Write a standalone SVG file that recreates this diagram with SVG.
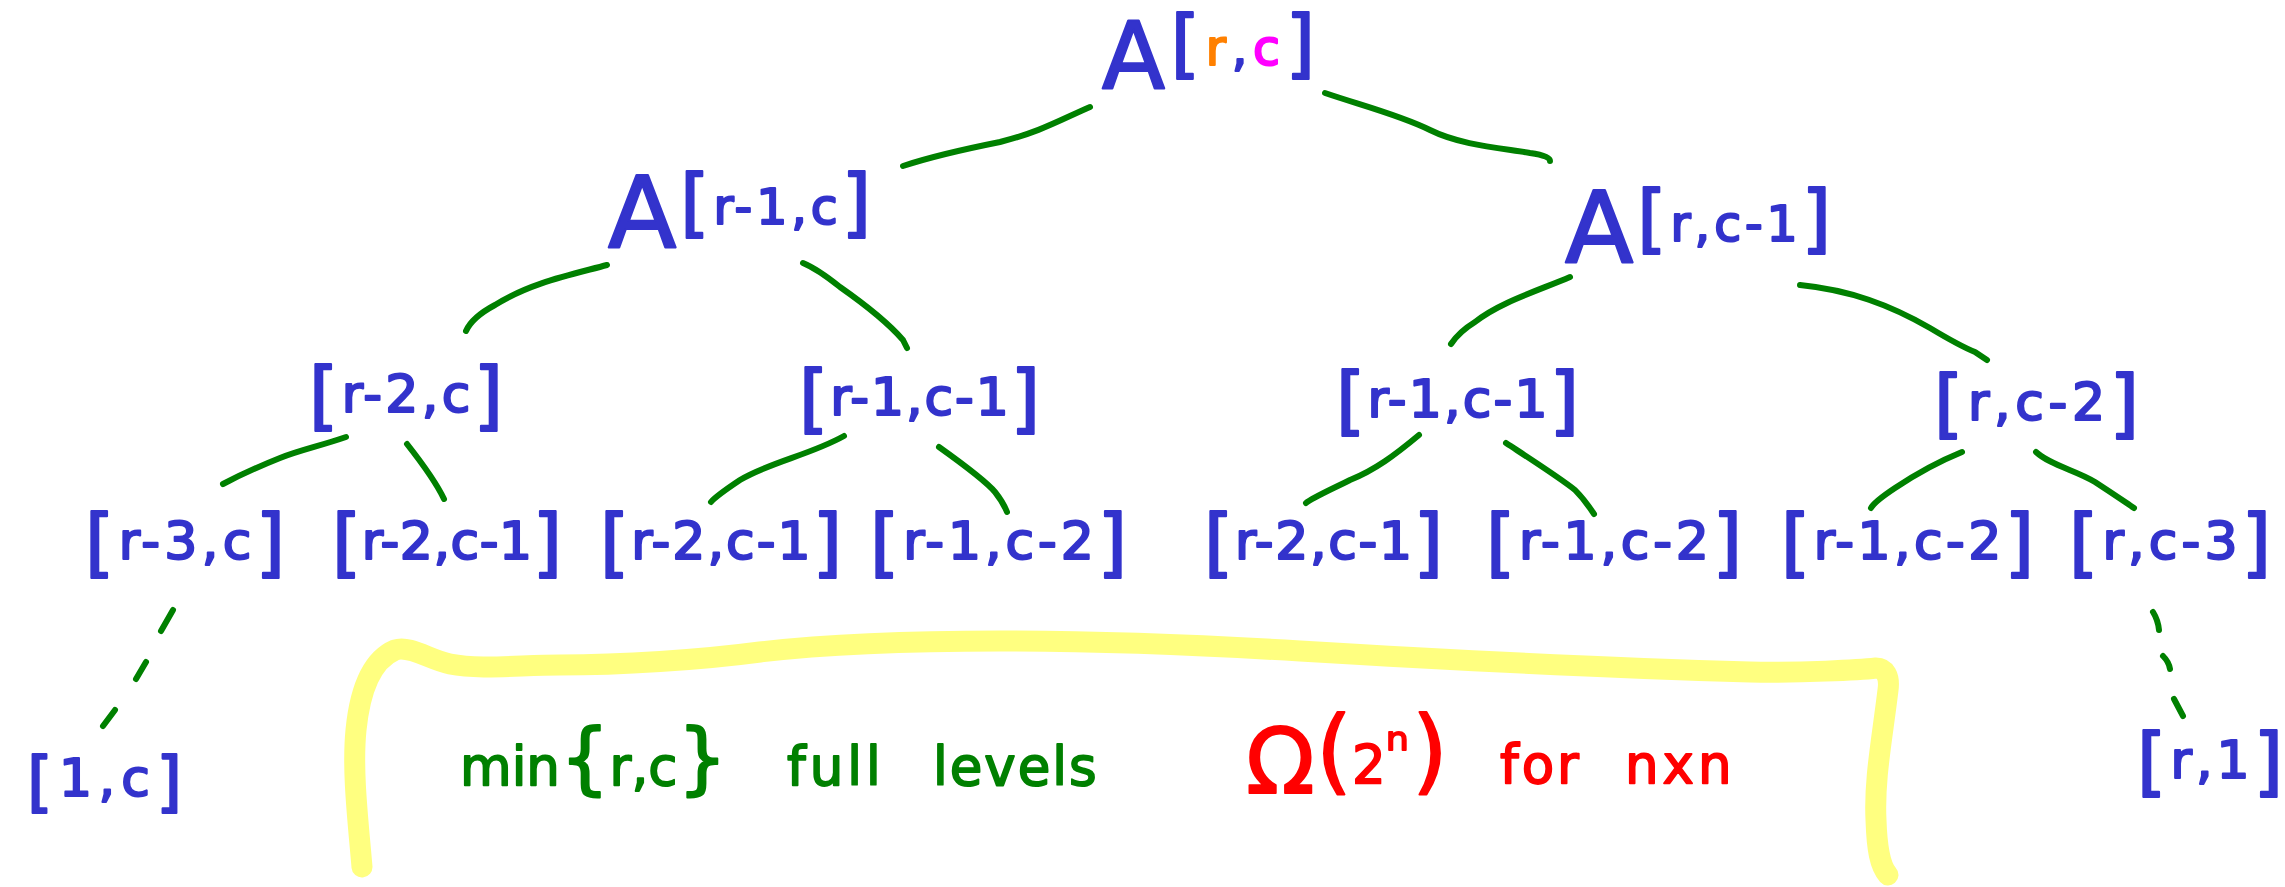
<svg xmlns="http://www.w3.org/2000/svg" width="2285" height="887" viewBox="0 0 2285 887">
<style>
text { font-family: "DejaVu Sans", "Liberation Sans", sans-serif; stroke-linejoin: round; }
.lbl { fill: #3333cc; stroke: #3333cc; stroke-width: 2.2; }
.br { font-size: 75px; }
.brs { font-size: 66px; }
.in { font-size: 52px; }
.in1 { font-size: 49px; }
.A { font-size: 100px; }
.A0 { font-size: 92px; }
.or { fill: #ff8000; stroke: #ff8000; }
.mg { fill: #ff00ff; stroke: #ff00ff; }
.gtx { fill: #008000; stroke: #008000; stroke-width: 1.8; font-size: 53px; }
.rtx { fill: #ff0000; stroke: #ff0000; stroke-width: 1.8; font-size: 53px; }
.brc { font-size: 78px; }
.par { font-size: 92px; }
.om { font-size: 90px; }
.edge { fill: none; stroke: #008000; stroke-width: 6; stroke-linecap: round; stroke-linejoin: round; }
.hl { fill: none; stroke: #ffff80; stroke-width: 21; stroke-linecap: round; stroke-linejoin: round; }
</style>

<g id="highlight">
<path class="hl" d="M362,867 C358,820 352,770 356,730 C360,690 372,660 395,650 C410,645 430,660 450,664 C480,670 520,665 560,665 C620,665 700,660 760,652 C820,645 900,641 1000,641 C1100,641 1200,645 1300,651 C1450,660 1600,668 1750,672 C1800,673 1860,670 1876,668 C1885,668 1890,676 1888,690 C1882,740 1874,780 1876,820 C1877,850 1880,866 1888,875"/>
</g>

<g id="connectors">
<path class="edge" d="M1090,107 C1060,120 1040,132 1000,142 C960,150 930,157 903,166"/>
<path class="edge" d="M1325,93 C1360,105 1400,115 1430,130 C1460,145 1500,148 1530,153 C1545,155 1550,158 1550,161"/>
<path class="edge" d="M607,265 C570,275 530,283 495,305 C480,313 470,322 466,331"/>
<path class="edge" d="M803,263 C815,268 825,275 840,287 C870,308 890,325 903,340 L907,348"/>
<path class="edge" d="M1570,277 C1540,290 1500,302 1475,322 C1462,330 1455,338 1451,344"/>
<path class="edge" d="M1800,285 C1850,290 1890,305 1930,328 C1955,343 1970,350 1975,352 L1987,360"/>
<path class="edge" d="M346,437 C320,446 300,450 280,458 C260,466 240,475 223,484"/>
<path class="edge" d="M407,444 C418,458 435,480 444,499"/>
<path class="edge" d="M844,436 C810,455 770,462 740,480 C725,490 715,497 711,502"/>
<path class="edge" d="M939,447 C960,462 985,480 995,492 C1003,502 1005,507 1007,512"/>
<path class="edge" d="M1419,435 C1395,455 1375,470 1350,480 C1330,490 1312,498 1306,503"/>
<path class="edge" d="M1506,443 C1535,462 1560,478 1575,490 C1585,500 1590,508 1594,514"/>
<path class="edge" d="M1962,452 C1930,465 1910,478 1895,488 C1880,498 1873,504 1871,508"/>
<path class="edge" d="M2036,452 C2050,465 2075,470 2095,482 C2115,495 2125,502 2134,508"/>
<path class="edge" d="M173,610 L161,631 M146,662 L136,679 M115,710 L103,726"/>
<path class="edge" d="M2153,612 Q2158,620 2159,630 M2163,656 Q2169,662 2170,669 M2174,699 L2183,716"/>
</g>

<g id="root">
<text class="lbl" x="1102" y="88" textLength="213" lengthAdjust="spacing"><tspan class="A0">A</tspan><tspan class="br" dy="-19">[</tspan><tspan class="in1" dy="-4"><tspan class="or">r</tspan>,<tspan class="mg">c</tspan></tspan><tspan class="br" dy="4">]</tspan></text>
</g>

<g id="n_r1c">
<text class="lbl" x="608" y="248" textLength="263" lengthAdjust="spacing"><tspan class="A">A</tspan><tspan class="br" dy="-20">[</tspan><tspan class="in1" dy="-4">r-1,c</tspan><tspan class="br" dy="4">]</tspan></text>
</g>

<g id="n_rc1">
<text class="lbl" x="1565" y="263" textLength="266" lengthAdjust="spacing"><tspan class="A">A</tspan><tspan class="br" dy="-19">[</tspan><tspan class="in1" dy="-3">r,c-1</tspan><tspan class="br" dy="3">]</tspan></text>
</g>

<g id="n_r2c">
<text class="lbl" x="309" y="421" textLength="194" lengthAdjust="spacing"><tspan class="br">[</tspan><tspan class="in" dy="-9">r-2,c</tspan><tspan class="br" dy="9">]</tspan></text>
</g>
<g id="n_r1c1_a">
<text class="lbl" x="799" y="424" textLength="241" lengthAdjust="spacing"><tspan class="br">[</tspan><tspan class="in" dy="-9">r-1,c-1</tspan><tspan class="br" dy="9">]</tspan></text>
</g>
<g id="n_r1c1_b">
<text class="lbl" x="1336" y="426" textLength="243" lengthAdjust="spacing"><tspan class="br">[</tspan><tspan class="in" dy="-9">r-1,c-1</tspan><tspan class="br" dy="9">]</tspan></text>
</g>
<g id="n_rc2">
<text class="lbl" x="1934" y="429" textLength="205" lengthAdjust="spacing"><tspan class="br">[</tspan><tspan class="in" dy="-9">r,c-2</tspan><tspan class="br" dy="9">]</tspan></text>
</g>

<g id="n_r3c">
<text class="lbl" x="85" y="568" textLength="200" lengthAdjust="spacing"><tspan class="br">[</tspan><tspan class="in" dy="-9">r-3,c</tspan><tspan class="br" dy="9">]</tspan></text>
</g>
<g id="n_r2c1_a">
<text class="lbl" x="332" y="568" textLength="230" lengthAdjust="spacing"><tspan class="br">[</tspan><tspan class="in" dy="-9">r-2,c-1</tspan><tspan class="br" dy="9">]</tspan></text>
</g>
<g id="n_r2c1_b">
<text class="lbl" x="600" y="568" textLength="242" lengthAdjust="spacing"><tspan class="br">[</tspan><tspan class="in" dy="-9">r-2,c-1</tspan><tspan class="br" dy="9">]</tspan></text>
</g>
<g id="n_r1c2_a">
<text class="lbl" x="870" y="568" textLength="257" lengthAdjust="spacing"><tspan class="br">[</tspan><tspan class="in" dy="-9">r-1,c-2</tspan><tspan class="br" dy="9">]</tspan></text>
</g>
<g id="n_r2c1_c">
<text class="lbl" x="1204" y="568" textLength="239" lengthAdjust="spacing"><tspan class="br">[</tspan><tspan class="in" dy="-9">r-2,c-1</tspan><tspan class="br" dy="9">]</tspan></text>
</g>
<g id="n_r1c2_b">
<text class="lbl" x="1486" y="568" textLength="256" lengthAdjust="spacing"><tspan class="br">[</tspan><tspan class="in" dy="-9">r-1,c-2</tspan><tspan class="br" dy="9">]</tspan></text>
</g>
<g id="n_r1c2_c">
<text class="lbl" x="1781" y="568" textLength="253" lengthAdjust="spacing"><tspan class="br">[</tspan><tspan class="in" dy="-9">r-1,c-2</tspan><tspan class="br" dy="9">]</tspan></text>
</g>
<g id="n_rc3">
<text class="lbl" x="2069" y="568" textLength="202" lengthAdjust="spacing"><tspan class="br">[</tspan><tspan class="in" dy="-9">r,c-3</tspan><tspan class="br" dy="9">]</tspan></text>
</g>

<g id="n_1c">
<text class="lbl" x="27" y="804" textLength="155" lengthAdjust="spacing"><tspan class="brs">[</tspan><tspan class="in" dy="-8">1,c</tspan><tspan class="brs" dy="8">]</tspan></text>
</g>
<g id="n_r1">
<text class="lbl" x="2137" y="787" textLength="146" lengthAdjust="spacing"><tspan class="br">[</tspan><tspan class="in" dy="-9">r,1</tspan><tspan class="br" dy="9">]</tspan></text>
</g>

<g id="note_levels">
<text class="gtx" y="785"><tspan x="460">min<tspan class="brc">{</tspan>r,c<tspan class="brc">}</tspan></tspan> <tspan x="787" letter-spacing="4">full</tspan> <tspan x="933" letter-spacing="2">levels</tspan></text>
</g>

<g id="note_bound">
<text class="rtx" y="783"><tspan class="om" x="1246" dy="10">Ω</tspan><tspan class="par" x="1316" dy="-10">(</tspan><tspan x="1352">2</tspan><tspan dy="-14" font-size="58">ⁿ</tspan><tspan class="par" x="1412" dy="14">)</tspan> <tspan x="1500" letter-spacing="3">for</tspan> <tspan x="1625" letter-spacing="4">nxn</tspan></text>
</g>
</svg>
